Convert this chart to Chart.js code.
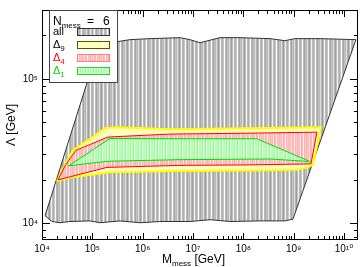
<!DOCTYPE html>
<html>
<head>
<meta charset="utf-8">
<script src="https://cdn.jsdelivr.net/npm/chart.js@4/dist/chart.umd.min.js"></script>
<style>
  html, body { margin: 0; padding: 0; background: #fff; }
  canvas { display: block; }
</style>
</head>
<body>
<canvas id="c" width="360" height="267"></canvas>
<script>
// region outlines: M_mess [GeV] and Lambda [GeV]
const allM = [1.15e4, 1.42e5, 3.1e5, 5.6e5, 1.4e6, 5.5e6, 8.7e6, 1.38e7, 3.44e7, 8.6e7, 3.4e8, 6.7e8, 1.06e9, 3.34e9, 1.73e10,
              9.7e8, 6.7e8, 2.14e8, 5.4e7, 2.18e7, 8.7e6, 2.2e6, 8.9e5, 3.55e5, 1.42e5, 9.0e4, 3.6e4, 2.28e4, 1.58e4, 1.15e4];
const allL = [1.13e4, 1.81e5, 1.81e5, 1.87e5, 1.90e5, 1.93e5, 1.87e5, 1.78e5, 1.93e5, 1.93e5, 1.90e5, 1.84e5, 1.90e5, 1.90e5, 1.87e5,
              1.07e4, 1.04e4, 1.04e4, 1.03e4, 1.06e4, 1.03e4, 1.03e4, 1.01e4, 1.04e4, 1.01e4, 1.04e4, 1.03e4, 1.01e4, 1.03e4, 1.13e4];

const d9M = [1.99e4, 2.6e4, 4.1e4, 9.0e4, 1.79e5, 3.1e5, 3.5e6, 1.36e8, 3.5e9, 2.42e9, 1.84e9, 1.16e9, 1.36e8, 5.5e6, 2.24e5, 3.6e4, 1.99e4];
const d9L = [1.96e4, 2.39e4, 3.2e4, 3.84e4, 4.55e4, 4.62e4, 4.48e4, 4.55e4, 4.62e4, 2.54e4, 2.43e4, 2.35e4, 2.32e4, 2.30e4, 2.26e4, 2.08e4, 1.96e4];

const d4M = [2.08e4, 2.86e4, 4.7e4, 2.05e5, 3.5e6, 1.36e8, 2.91e9, 2.21e9, 1.36e8, 5.5e6, 1.95e5, 2.08e4];
const d4L = [2.0e4, 2.5e4, 3.2e4, 3.96e4, 4.15e4, 4.21e4, 4.28e4, 2.58e4, 2.54e4, 2.52e4, 2.44e4, 2.0e4];

const d1M = [3.37e4, 2.24e5, 5.5e6, 1.87e8, 2.11e9, 3.4e8, 5.5e6, 1.95e5, 3.37e4];
const d1L = [2.50e4, 3.87e4, 3.85e4, 3.85e4, 2.68e4, 2.79e4, 2.76e4, 2.69e4, 2.50e4];

const xTickVals = [1e4, 1e5, 1e6, 1e7, 1e8, 1e9, 1e10];
const xTickLabels = ['10⁴', '10⁵', '10⁶', '10⁷', '10⁸', '10⁹', '10¹⁰'];
const yTickVals = [1e4, 1e5];
const yTickLabels = ['10⁴', '10⁵'];

const legendTitle = ['N', 'mess', '=', '6'];
const legendNames = [['all', ''], ['Δ', '9'], ['Δ', '4'], ['Δ', '1']];
const legendColors = ['#000', '#000', '#ff0000', '#00dd00'];

const X_MIN = 1e4, X_MAX = 1.9e10, Y_MIN = 7.67e3, Y_MAX = 3.0e5;
const FONT = "'Liberation Sans', 'DejaVu Sans', sans-serif";

const canvas = document.getElementById('c');
const ctx0 = canvas.getContext('2d');

function stripes(cols) {
	const c = document.createElement('canvas');
	c.width = cols.length; c.height = 1;
	const g = c.getContext('2d');
	cols.forEach((col, i) => { g.fillStyle = col; g.fillRect(i, 0, 1, 1); });
	return ctx0.createPattern(c, 'repeat');
}

const grayPat = stripes(['#bcbcbc','#b0b0b0','#c6c6c6','#ffffff','#bababa','#a6a6a6','#c2c2c2','#b8b8b8','#e0e0e0','#b4b4b4','#9e9e9e','#c0c0c0','#f0f0f0']);
const yellowPat = stripes(['#ffffa8','#ffffc8','#ffff9c','#ffffe8','#ffffb0','#ffffa0','#fffff0','#ffffb8']);
const redPat = stripes(['#ffb2b2','#ffc4c4','#ffb8b8','#ffe6e6','#ffaaaa','#ffbcbc','#fff0f0','#ffb4b4','#ffc8c8']);
const greenPat = stripes(['#aaffaa','#c4ffc4','#a0f8a0','#e4ffe4','#b0ffb0','#9cf49c','#f0fff0','#b4ffb4']);

function zip(xs, ys) { return xs.map((v, i) => ({x: v, y: ys[i]})); }

function logTicks(majors, min, max) {
	const out = [];
	const first = Math.floor(Math.log10(min));
	const last = Math.ceil(Math.log10(max));
	for (let e = first; e <= last; e++) {
		for (let m = 1; m <= 9; m++) {
			const v = m * Math.pow(10, e);
			if (v >= min * 0.999 && v <= max * 1.001) out.push({value: v});
		}
	}
	return out;
}

function isMajor(v) {
	const l = Math.log10(v);
	return Math.abs(l - Math.round(l)) < 1e-6;
}

function region(label, xs, ys, pat, line, width, order) {
	return {
		label: label,
		data: zip(xs, ys),
		showLine: true,
		fill: 'shape',
		backgroundColor: pat,
		borderColor: line,
		borderWidth: width,
		pointRadius: 0,
		tension: 0,
		order: order
	};
}

const axesAndLabels = {
	id: 'axesAndLabels',
	afterDatasetsDraw(chart) {
		const {ctx, chartArea: a, scales} = chart;
		ctx.save();
		ctx.strokeStyle = '#000';
		ctx.lineWidth = 1;
		ctx.beginPath();
		scales.x.ticks.forEach(t => {
			const px = Math.round(scales.x.getPixelForValue(t.value)) + 0.5;
			const len = isMajor(t.value) ? 7 : 4;
			ctx.moveTo(px, a.bottom); ctx.lineTo(px, a.bottom - len);
			ctx.moveTo(px, a.top); ctx.lineTo(px, a.top + len);
		});
		scales.y.ticks.forEach(t => {
			const py = Math.round(scales.y.getPixelForValue(t.value)) + 0.5;
			const len = isMajor(t.value) ? 8 : 4;
			ctx.moveTo(a.left, py); ctx.lineTo(a.left + len, py);
			ctx.moveTo(a.right, py); ctx.lineTo(a.right - len, py);
		});
		ctx.stroke();
		ctx.strokeRect(a.left + 0.5, a.top + 0.5, a.right - a.left - 1, a.bottom - a.top - 1);
		ctx.restore();
	},
	afterDraw(chart) {
		const {ctx, chartArea: a} = chart;
		ctx.save();
		ctx.fillStyle = '#000';
		ctx.textBaseline = 'alphabetic';
		ctx.textAlign = 'left';

		// x axis title with subscript
		let tx = (a.left + a.right) / 2 - 38;
		ctx.font = '12px ' + FONT;
		ctx.fillText('M', tx, 263);
		tx += ctx.measureText('M').width;
		ctx.font = '8px ' + FONT;
		ctx.fillText('mess', tx, 266);
		tx += ctx.measureText('mess').width;
		ctx.font = '12px ' + FONT;
		ctx.fillText(' [GeV]', tx, 263);

		// legend box
		const bx = 49.5, by = 10.5, bw = 68, bh = 72;
		ctx.fillStyle = '#fff';
		ctx.fillRect(bx, by, bw, bh);
		ctx.strokeStyle = '#444';
		ctx.lineWidth = 1;
		ctx.strokeRect(bx, by, bw, bh);

		ctx.fillStyle = '#000';
		ctx.font = '12px ' + FONT;
		ctx.fillText(legendTitle[0], 53, 25);
		let lx = 53 + ctx.measureText(legendTitle[0]).width;
		ctx.font = '8px ' + FONT;
		ctx.fillText(legendTitle[1], lx, 28);
		ctx.font = '12px ' + FONT;
		ctx.fillText(legendTitle[2], 87, 25);
		ctx.fillText(legendTitle[3], 103, 25);

		const pats = [grayPat, yellowPat, redPat, greenPat];
		const edges = ['#333', '#555500', '#ff8080', '#33cc33'];
		legendNames.forEach((n, i) => {
			const base = 35 + i * 13;
			ctx.fillStyle = legendColors[i];
			ctx.font = '11px ' + FONT;
			ctx.fillText(n[0], 53, base);
			if (n[1]) {
				const w = ctx.measureText(n[0]).width;
				ctx.font = '8px ' + FONT;
				ctx.fillText(n[1], 53 + w, base + 3);
			}
			ctx.fillStyle = pats[i];
			ctx.fillRect(77, base - 7, 33, 7);
			ctx.strokeStyle = edges[i];
			ctx.strokeRect(77.5, base - 6.5, 32, 7);
		});
		ctx.restore();
	}
};

new Chart(canvas, {
	type: 'scatter',
	data: {
		datasets: [
			region('all', allM, allL, grayPat, '#333333', 1, 4),
			region('Δ9', d9M, d9L, yellowPat, '#ffff00', 2, 3),
			region('Δ4', d4M, d4L, redPat, '#ff0000', 1, 2),
			region('Δ1', d1M, d1L, greenPat, '#00dd00', 1, 1)
		]
	},
	options: {
		responsive: false,
		animation: false,
		events: [],
		layout: { padding: { top: 1, right: 2, left: 0, bottom: 0 } },
		plugins: {
			legend: { display: false },
			tooltip: { enabled: false },
			filler: { propagate: false }
		},
		scales: {
			x: {
				type: 'logarithmic',
				min: X_MIN,
				max: X_MAX,
				bounds: 'data',
				grid: { display: false, drawTicks: false },
				border: { display: false },
				afterBuildTicks: s => { s.ticks = logTicks(xTickVals, X_MIN, X_MAX); },
				afterFit: s => { s.height = 27; },
				ticks: {
					autoSkip: false,
					maxRotation: 0,
					padding: 3,
					color: '#000',
					font: { family: FONT, size: 10 },
					callback: v => {
						const i = xTickVals.findIndex(t => Math.abs(t - v) / t < 1e-6);
						return i >= 0 ? xTickLabels[i] : '';
					}
				}
			},
			y: {
				type: 'logarithmic',
				min: Y_MIN,
				max: Y_MAX,
				bounds: 'data',
				grid: { display: false, drawTicks: false },
				border: { display: false },
				afterBuildTicks: s => { s.ticks = logTicks(yTickVals, Y_MIN, Y_MAX); },
				afterFit: s => { s.width = 42; },
				title: {
					display: true,
					text: 'Λ [GeV]',
					color: '#000',
					font: { family: FONT, size: 12 },
					padding: { top: 4, bottom: 0 }
				},
				ticks: {
					autoSkip: false,
					padding: 4,
					color: '#000',
					font: { family: FONT, size: 10 },
					callback: v => {
						const i = yTickVals.findIndex(t => Math.abs(t - v) / t < 1e-6);
						return i >= 0 ? yTickLabels[i] : '';
					}
				}
			}
		}
	},
	plugins: [axesAndLabels]
});
</script>
</body>
</html>
